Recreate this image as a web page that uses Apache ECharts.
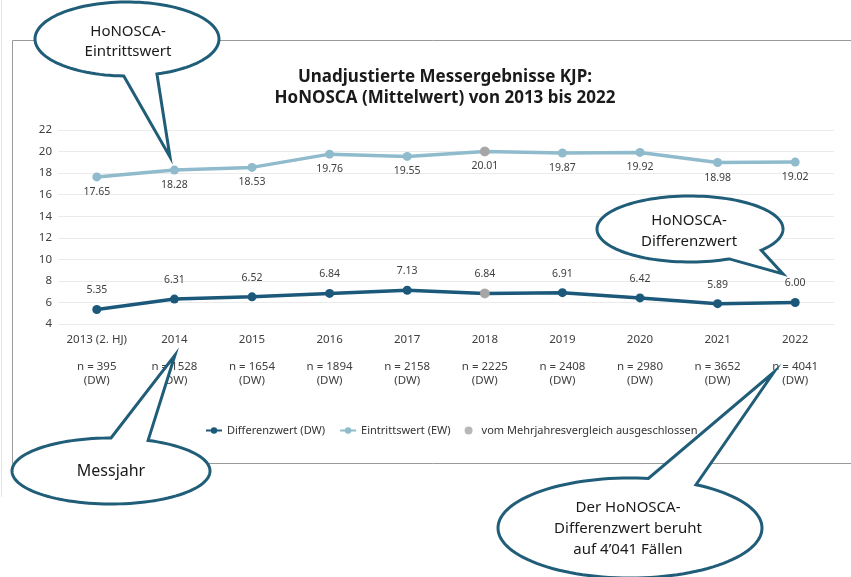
<!DOCTYPE html>
<html>
<head>
<meta charset="utf-8">
<script src="https://cdn.jsdelivr.net/npm/echarts@6/dist/echarts.min.js"></script>
<style>
  html, body { margin: 0; padding: 0; background: #fff; }
  #chart { width: 851px; height: 577px; }
</style>
</head>
<body>
<div id="chart"></div>
<script>
// Messjahre und Fallzahlen
const years = ['2013 (2. HJ)', '2014', '2015', '2016', '2017', '2018', '2019', '2020', '2021', '2022']
const nCases = [395, 1528, 1654, 1894, 2158, 2225, 2408, 2980, 3652, 4041]
// Mittelwerte
const eintrittswert = [17.65, 18.28, 18.53, 19.76, 19.55, 20.01, 19.87, 19.92, 18.98, 19.02]
const differenzwert = [5.35, 6.31, 6.52, 6.84, 7.13, 6.84, 6.91, 6.42, 5.89, 6.00]
// vom Mehrjahresvergleich ausgeschlossen
const excludedIdx = [5]
const yTicks = { min: 4, max: 22, interval: 2 }

const font = 'Noto Sans'
const dark = '#1b587a'
const light = '#8fbbcc'
const grey = '#a6a6a6'
const bubbleStroke = '#1f5d78'

// Sprechblase: Ellipse mit Zipfel (Winkel in Grad)
function bubble (cx, cy, rx, ry, a1, a2, tip) {
  const pts = []
  for (let a = a2; a <= a1 + 360; a += 3) {
    const r = a * Math.PI / 180
    pts.push([cx + rx * Math.cos(r), cy + ry * Math.sin(r)])
  }
  const r1 = a1 * Math.PI / 180
  pts.push([cx + rx * Math.cos(r1), cy + ry * Math.sin(r1)])
  pts.push(tip)
  return {
    type: 'polygon',
    z: 100,
    shape: { points: pts },
    style: { fill: '#fff', stroke: bubbleStroke, lineWidth: 3 }
  }
}
function bubbleText (x, y, text, size, lh) {
  return {
    type: 'text',
    z: 101,
    x: x,
    y: y,
    style: {
      text: text,
      fontFamily: font,
      fontSize: size,
      lineHeight: lh,
      fill: '#1a1a1a',
      align: 'center',
      verticalAlign: 'middle'
    }
  }
}

const chart = echarts.init(document.getElementById('chart'))

const pointData = (arr) => arr.map((v, i) => excludedIdx.includes(i)
  ? { value: v, itemStyle: { color: grey } }
  : v)

chart.setOption({
  animation: false,
  textStyle: { fontFamily: font },
  title: {
    text: 'Unadjustierte Messergebnisse KJP:\nHoNOSCA (Mittelwert) von 2013 bis 2022',
    left: 440,
    top: 62,
    textAlign: 'center',
    textStyle: { fontFamily: font, fontSize: 17, fontWeight: 'bold', color: '#1a1a1a', lineHeight: 21 }
  },
  grid: { left: 58, right: 17, top: 130, bottom: 253 },
  legend: {
    left: 200,
    top: 420,
    itemWidth: 16,
    itemHeight: 8,
    itemGap: 14,
    textStyle: { fontFamily: font, fontSize: 11, color: '#333' },
    data: [
      { name: 'Differenzwert (DW)' },
      { name: 'Eintrittswert (EW)' },
      { name: 'vom Mehrjahresvergleich ausgeschlossen', icon: 'circle' }
    ]
  },
  xAxis: {
    type: 'category',
    data: years,
    axisLine: { show: false },
    axisTick: { show: false },
    axisLabel: {
      interval: 0,
      margin: 9,
      color: '#404040',
      fontSize: 11.5,
      lineHeight: 13.5,
      formatter: (v, i) => v + '\n\nn = ' + nCases[i] + '\n(DW)'
    }
  },
  yAxis: {
    type: 'value',
    min: yTicks.min,
    max: yTicks.max,
    interval: yTicks.interval,
    axisLine: { show: false },
    axisTick: { show: false },
    axisLabel: { color: '#404040', fontSize: 11.5, margin: 6 },
    splitLine: { lineStyle: { color: '#ebebeb' } }
  },
  series: [
    {
      name: 'Differenzwert (DW)',
      type: 'line',
      data: pointData(differenzwert),
      symbol: 'circle',
      symbolSize: 9,
      color: dark,
      lineStyle: { width: 3.5, color: dark },
      label: {
        show: true,
        position: 'top',
        distance: 9,
        color: '#404040',
        fontSize: 10.5,
        formatter: (p) => p.value.toFixed(2)
      }
    },
    {
      name: 'Eintrittswert (EW)',
      type: 'line',
      data: pointData(eintrittswert),
      symbol: 'circle',
      symbolSize: 9,
      color: light,
      lineStyle: { width: 3.5, color: light },
      label: {
        show: true,
        position: 'bottom',
        distance: 5,
        color: '#404040',
        fontSize: 10.5,
        formatter: (p) => p.value.toFixed(2)
      }
    },
    {
      name: 'vom Mehrjahresvergleich ausgeschlossen',
      type: 'scatter',
      z: 5,
      symbolSize: 10,
      color: grey,
      data: excludedIdx.flatMap(i => [[i, eintrittswert[i]], [i, differenzwert[i]]])
    }
  ],
  graphic: [
    { type: 'line', z: 0, shape: { x1: 1.5, y1: 0, x2: 1.5, y2: 497 }, style: { stroke: '#e6e6e6', lineWidth: 1 } },
    { type: 'rect', z: 0, shape: { x: 12.5, y: 40.5, width: 900, height: 423 }, style: { fill: null, stroke: '#9a9a9a', lineWidth: 1 } },
    bubble(127, 39, 92, 37, 71, 92, [170, 157]),
    bubbleText(128, 42, 'HoNOSCA-\nEintrittswert', 15, 20),
    bubble(690, 229, 93, 33, 40, 65, [783, 274]),
    bubbleText(689, 231, 'HoNOSCA-\nDifferenzwert', 15, 21),
    bubble(111, 471, 99, 33, -90, -68, [175, 355]),
    bubbleText(111, 471, 'Messjahr', 16, 20),
    bubble(630, 528, 132, 50, -82, -60, [774, 372]),
    bubbleText(628, 529, 'Der HoNOSCA-\nDifferenzwert beruht\nauf 4\u2019041 F\u00e4llen', 15, 21)
  ]
})
</script>
</body>
</html>
